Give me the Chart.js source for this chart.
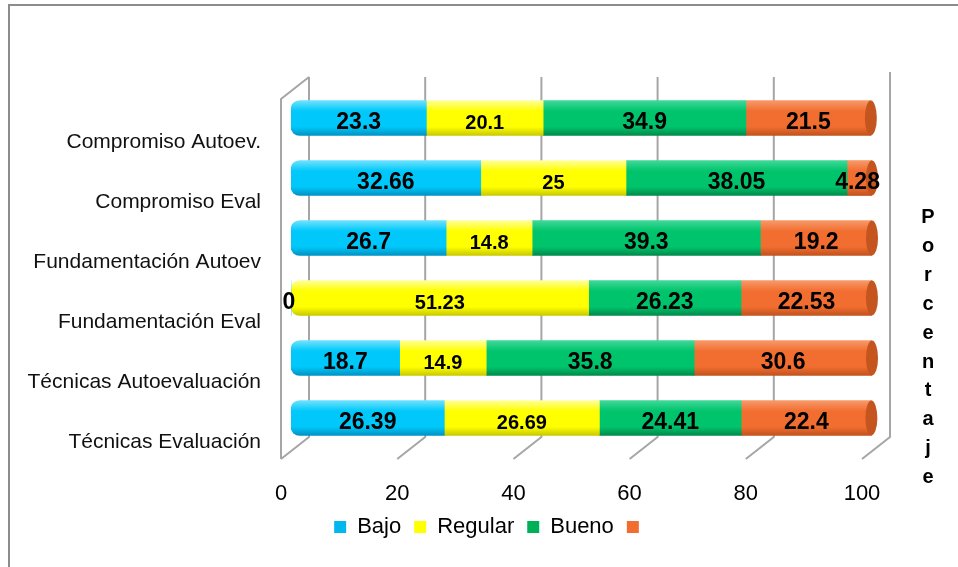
<!DOCTYPE html>
<html>
  <head>
    <meta charset="UTF-8" />
    <title>bar chart</title>
    <script src="https://cdn.jsdelivr.net/npm/chart.js@4.4.1/dist/chart.umd.min.js"></script>
    <style>
      body { margin: 0; background: #fff; }
    </style>
  </head>
  <body>
    <canvas id="chart" width="958" height="567"></canvas>
    <script>
      const categorias = ['Compromiso Autoev.', 'Compromiso Eval', 'Fundamentación Autoev', 'Fundamentación Eval', 'Técnicas Autoevaluación', 'Técnicas Evaluación']
      const bajo = [23.3, 32.66, 26.7, 0, 18.7, 26.39]
      const regular = [20.1, 25, 14.8, 51.23, 14.9, 26.69]
      const bueno = [34.9, 38.05, 39.3, 26.23, 35.8, 24.41]
      const otro = [21.5, 4.28, 19.2, 22.53, 30.6, 22.4]
      const ticksX = [0, 20, 40, 60, 80, 100]
      const nombres = ['Bajo', 'Regular', 'Bueno', '']
      const tituloEje = 'Porcentaje'

      const fuente = "'Liberation Sans', Arial, sans-serif"
      const colorLeyenda = ['#00b8ee', '#ffff00', '#00b058', '#f26e30']

      // cylinder look: light top, dark bottom
      const shade = function (base, light, dark) {
        return function (ctx) {
          const chart = ctx.chart
          if (ctx.type !== 'data' || !chart.chartArea) return base
          const y = chart.scales.y.getPixelForValue(ctx.dataIndex)
          const h = 17.5
          const g = chart.ctx.createLinearGradient(0, y - h, 0, y + h)
          g.addColorStop(0, light)
          g.addColorStop(0.3, base)
          g.addColorStop(0.75, base)
          g.addColorStop(1, dark)
          return g
        }
      }
      const leftRound = { topLeft: 9, bottomLeft: 9, topRight: 0, bottomRight: 0 }

      // 3D walls and gridlines
      const walls = {
        id: 'walls',
        beforeDraw(chart) {
          const c = chart.ctx
          c.save()
          c.strokeStyle = '#8c8c8c'
          c.lineWidth = 2
          c.beginPath()
          c.moveTo(9, chart.height)
          c.lineTo(9, 5)
          c.lineTo(chart.width, 5)
          c.stroke()
          c.restore()
        },
        beforeDatasetsDraw(chart) {
          const c = chart.ctx
          const a = chart.chartArea
          const x = chart.scales.x
          const bx = 18, fx = -10, d = 11
          c.save()
          c.strokeStyle = '#a6a6a6'
          c.lineWidth = 2
          c.beginPath()
          ticksX.forEach(v => {
            const p = x.getPixelForValue(v)
            c.moveTo(p + bx, a.top - d - (v === 100 ? 5 : 0))
            c.lineTo(p + bx, a.bottom - d)
            c.lineTo(p + fx, a.bottom + d)
          })
          const p0 = x.getPixelForValue(ticksX[0])
          c.moveTo(p0 + bx, a.top - d)
          c.lineTo(p0 + fx, a.top + d)
          c.lineTo(p0 + fx, a.bottom + d)
          c.stroke()
          c.restore()
        },
        afterDatasetsDraw(chart) {
          const c = chart.ctx
          c.save()
          // end face of the cylinders
          const last = chart.getDatasetMeta(3)
          last.data.forEach(el => {
            c.fillStyle = '#c4551f'
            c.beginPath()
            c.ellipse(el.x, el.y, 6, el.height / 2, 0, 0, Math.PI * 2)
            c.fill()
          })
          // value labels
          c.fillStyle = '#000'
          c.textBaseline = 'middle'
          chart.data.datasets.forEach((ds, i) => {
            const meta = chart.getDatasetMeta(i)
            c.font = (i === 1 ? 'bold 20px ' : 'bold 23px ') + fuente
            meta.data.forEach((el, j) => {
              const v = ds.data[j]
              const txt = String(v)
              const w = c.measureText(txt).width
              const seg = Math.abs(el.x - el.base)
              let tx = (el.x + el.base) / 2
              c.textAlign = 'center'
              if (v === 0) {
                tx = el.base - 2
              } else if (w > seg) {
                c.textAlign = 'right'
                tx = el.x + 8
              }
              c.fillText(txt, tx, el.y + 5)
            })
          })
          c.restore()
        },
        afterDraw(chart) {
          const c = chart.ctx
          c.save()
          c.fillStyle = '#000'
          c.font = 'bold 20px ' + fuente
          c.textAlign = 'center'
          c.textBaseline = 'alphabetic'
          const letras = tituloEje.split('')
          letras.forEach((l, i) => {
            c.fillText(l, chart.width - 30, 223 + i * 28.9)
          })
          c.restore()
        }
      }

      const draw = function () {
        const context = document.querySelector('#chart').getContext('2d')
        window.chart = new Chart(context, {
          type: 'bar',
          data: {
            labels: categorias,
            datasets: [
              { label: nombres[0], data: bajo, backgroundColor: shade('#00c8fa', '#6fe2ff', '#0093c4'), borderRadius: leftRound },
              { label: nombres[1], data: regular, backgroundColor: shade('#ffff00', '#ffff9a', '#c9c900'),
                borderRadius: ctx => (bajo[ctx.dataIndex] === 0 ? leftRound : 0) },
              { label: nombres[2], data: bueno, backgroundColor: shade('#00c46c', '#3fd898', '#008a4c'), borderRadius: 0 },
              { label: nombres[3], data: otro, backgroundColor: shade('#f26e30', '#f89a6a', '#c2521d'), borderRadius: 0 }
            ]
          },
          options: {
            indexAxis: 'y',
            responsive: false,
            animation: false,
            barThickness: 35,
            borderSkipped: false,
            borderWidth: 0,
            layout: { padding: { left: 26, top: 88, right: 0, bottom: 19 } },
            scales: {
              x: {
                stacked: true,
                min: 0,
                max: 100,
                afterBuildTicks: s => { s.ticks = ticksX.map(v => ({ value: v })) },
                afterFit: s => { s.height = 55 },
                grid: { display: false, drawTicks: false },
                border: { display: false },
                ticks: { color: '#000', padding: 33, labelOffset: -10, maxRotation: 0, font: { family: fuente, size: 22 } }
              },
              y: {
                stacked: true,
                afterFit: s => { s.width = 265 },
                grid: { display: false, drawTicks: false },
                border: { display: false },
                ticks: { color: '#111', padding: 30, labelOffset: 24, autoSkip: false, font: { family: fuente, size: 21 } }
              },
              yR: {
                type: 'linear',
                position: 'right',
                afterFit: s => { s.width = 86 },
                grid: { display: false, drawTicks: false },
                border: { display: false },
                ticks: { display: false }
              }
            },
            plugins: {
              legend: {
                position: 'bottom',
                labels: {
                  boxWidth: 12, boxHeight: 12, padding: 13, color: '#000', font: { family: fuente, size: 22 },
                  generateLabels: chart => chart.data.datasets.map((ds, i) => ({
                    text: ds.label,
                    fillStyle: colorLeyenda[i],
                    strokeStyle: colorLeyenda[i],
                    lineWidth: 0,
                    fontColor: '#000',
                    hidden: false,
                    datasetIndex: i
                  }))
                }
              },
              tooltip: { enabled: false }
            }
          },
          plugins: [walls]
        })
      }
      window.onload = function () {
        draw()
      }
    </script>
  </body>
</html>
